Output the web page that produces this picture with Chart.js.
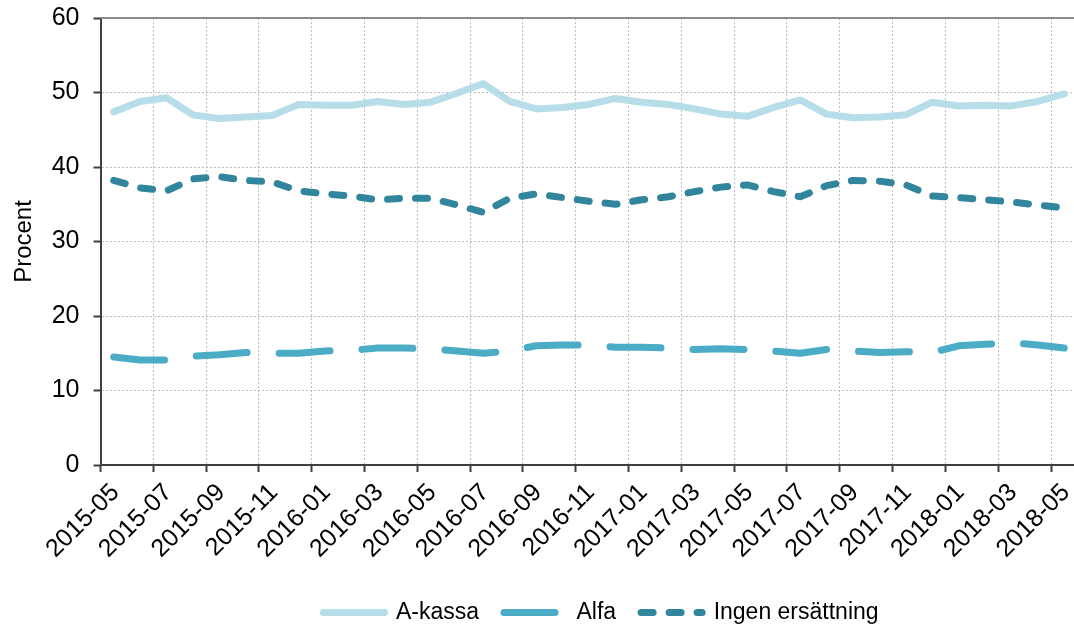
<!DOCTYPE html>
<html>
<head>
<meta charset="utf-8">
<script src="https://cdn.jsdelivr.net/npm/chart.js@4/dist/chart.umd.min.js"></script>
<style>
  html, body { margin: 0; padding: 0; background: #fff; }
  #wrap { width: 1074px; height: 629px; }
</style>
</head>
<body>
<div id="wrap"><canvas id="c"></canvas></div>
<script>
const months = [
  "2015-05","2015-06","2015-07","2015-08","2015-09","2015-10","2015-11","2015-12",
  "2016-01","2016-02","2016-03","2016-04","2016-05","2016-06","2016-07","2016-08",
  "2016-09","2016-10","2016-11","2016-12","2017-01","2017-02","2017-03","2017-04",
  "2017-05","2017-06","2017-07","2017-08","2017-09","2017-10","2017-11","2017-12",
  "2018-01","2018-02","2018-03","2018-04","2018-05"
];
const aKassa = [
  47.4, 48.8, 49.3, 47.0, 46.5, 46.7, 46.9, 48.4, 48.3, 48.3, 48.8, 48.4,
  48.7, 49.9, 51.2, 48.8, 47.8, 48.0, 48.4, 49.2, 48.7, 48.4, 47.8, 47.1,
  46.8, 48.0, 49.0, 47.1, 46.6, 46.7, 47.0, 48.7, 48.2, 48.3, 48.2, 48.8, 49.8
];
const alfa = [
  14.5, 14.1, 14.1, 14.6, 14.8, 15.1, 15.0, 15.0, 15.3, 15.4, 15.7, 15.7,
  15.6, 15.3, 15.0, 15.3, 16.0, 16.1, 16.1, 15.8, 15.8, 15.7, 15.5, 15.6,
  15.5, 15.3, 15.0, 15.5, 15.3, 15.1, 15.2, 15.1, 16.0, 16.2, 16.4, 16.1, 15.7
];
const ingen = [
  38.2, 37.2, 36.8, 38.4, 38.7, 38.2, 38.0, 36.8, 36.4, 36.1, 35.6, 35.8,
  35.8, 34.9, 33.9, 35.8, 36.4, 35.9, 35.4, 35.0, 35.6, 36.0, 36.7, 37.3,
  37.6, 36.7, 36.0, 37.5, 38.2, 38.1, 37.6, 36.1, 35.9, 35.6, 35.3, 34.9, 34.5
];
const yTicks = [0, 10, 20, 30, 40, 50, 60];

const toPts = arr => arr.map((v, i) => ({ x: i + 0.5, y: v }));

const topBorder = {
  id: 'topBorder',
  afterDatasetsDraw(chart) {
    const { ctx, chartArea } = chart;
    ctx.save();
    ctx.strokeStyle = '#8c8c8c';
    ctx.lineWidth = 2;
    ctx.beginPath();
    ctx.moveTo(chartArea.left, chartArea.top);
    ctx.lineTo(chartArea.right, chartArea.top);
    ctx.stroke();
    ctx.restore();
  }
};

const LEGEND_SHIFT = 64;
const legendShift = {
  id: 'legendShift',
  afterLayout(chart) {
    const l = chart.legend;
    if (l) { l.left += LEGEND_SHIFT; l.right += LEGEND_SHIFT; }
  }
};

const FONT = "'Liberation Sans', Arial, sans-serif";
Chart.defaults.font.family = FONT;
Chart.defaults.color = '#000';

new Chart(document.getElementById('c'), {
  type: 'line',
  data: {
    datasets: [
      {
        label: 'A-kassa', data: toPts(aKassa),
        borderColor: '#b7dde8', backgroundColor: '#b7dde8',
        borderWidth: 7, pointRadius: 0, tension: 0,
        borderCapStyle: 'round', borderJoinStyle: 'round', pointStyle: 'line'
      },
      {
        label: 'Alfa', data: toPts(alfa),
        borderColor: '#4bacc6', backgroundColor: '#4bacc6',
        borderWidth: 7, pointRadius: 0, tension: 0, borderDash: [51, 32],
        borderCapStyle: 'round', borderJoinStyle: 'round', pointStyle: 'line'
      },
      {
        label: 'Ingen ersättning', data: toPts(ingen),
        borderColor: '#31869e', backgroundColor: '#31869e',
        borderWidth: 7, pointRadius: 0, tension: 0, borderDash: [12, 16],
        borderCapStyle: 'round', borderJoinStyle: 'round', pointStyle: 'line'
      }
    ]
  },
  options: {
    responsive: true,
    maintainAspectRatio: false,
    animation: false,
    layout: { padding: { top: 18, right: 0, left: 0, bottom: -5 } },
    plugins: {
      tooltip: { enabled: false },
      legend: {
        position: 'bottom',
        labels: {
          usePointStyle: true,
          pointStyleWidth: 61,
          boxHeight: 7,
          padding: 25,
          font: { size: 23, family: FONT },
          color: '#000',
          generateLabels(chart) {
            const items = Chart.defaults.plugins.legend.labels.generateLabels(chart);
            items.forEach(it => {
              const ds = chart.data.datasets[it.datasetIndex];
              it.lineDash = ds.borderDash || [];
              it.lineCap = 'round';
              it.lineWidth = 7;
              it.strokeStyle = ds.borderColor;
              it.pointStyle = 'line';
            });
            return items;
          }
        }
      }
    },
    scales: {
      x: {
        type: 'linear',
        min: 0,
        max: 36.87,
        afterFit: s => { s.height = 111; s.paddingLeft = 0; s.paddingRight = 0; },
        ticks: {
          stepSize: 2,
          includeBounds: false,
          autoSkip: false,
          minRotation: 45,
          maxRotation: 45,
          labelOffset: 15,
          padding: 6,
          font: { size: 25, family: FONT },
          color: '#000',
          callback: v => months[v] !== undefined ? months[v] : ''
        },
        grid: {
          color: '#bdbdbd',
          lineWidth: 1,
          tickLength: 7,
          tickColor: '#404040',
          tickWidth: 2
        },
        border: { display: true, color: '#404040', width: 2, dash: [2, 2] }
      },
      y: {
        min: 0,
        max: 60,
        afterBuildTicks: s => { s.ticks = yTicks.map(v => ({ value: v })); },
        afterFit: s => { s.width = 100.5; s.paddingTop = 0; s.paddingBottom = 0; },
        ticks: {
          padding: 14,
          font: { size: 25, family: FONT },
          color: '#000'
        },
        grid: {
          color: '#bdbdbd',
          lineWidth: 1,
          tickLength: 7,
          tickColor: '#404040',
          tickWidth: 2
        },
        border: { display: true, color: '#404040', width: 2, dash: [2, 2] },
        title: {
          display: true,
          text: 'Procent',
          font: { size: 24, family: FONT },
          color: '#000',
          padding: { top: 10, bottom: 0 }
        }
      }
    }
  },
  plugins: [topBorder, legendShift]
});
</script>
</body>
</html>
